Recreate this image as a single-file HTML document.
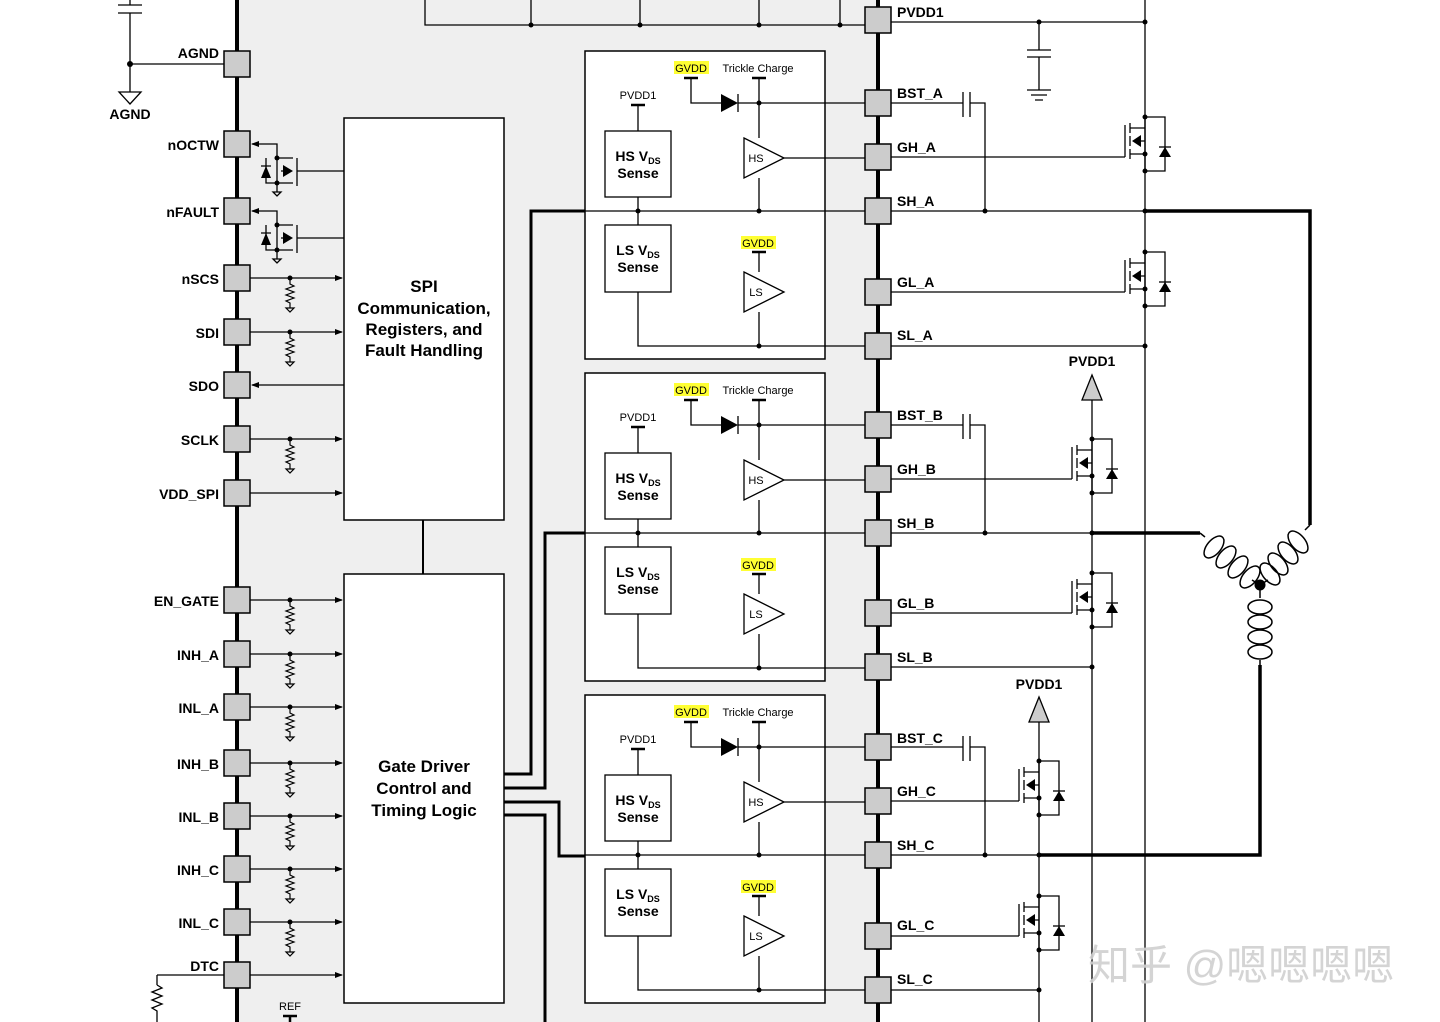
<!DOCTYPE html>
<html><head><meta charset="utf-8"><style>
html,body{margin:0;padding:0;background:#fff;}
svg{display:block;}
text{font-family:"Liberation Sans",Arial,sans-serif;}
.b{font-weight:bold;font-size:14px;}
.s{font-size:11px;}
</style></head><body>
<svg width="1440" height="1022" viewBox="0 0 1440 1022" xmlns="http://www.w3.org/2000/svg">
<defs>
<marker id="ar" markerWidth="8" markerHeight="8" refX="7" refY="4" orient="auto" markerUnits="userSpaceOnUse"><path d="M0,1 L8,4 L0,7z" fill="#000"/></marker>
<g id="res"><path d="M0,0 v6 l4,2 l-8,3 l8,3 l-8,3 l8,3 l-8,3 l4,2 v5 M-4,30 h8 l-4,4z" fill="none" stroke="#000" stroke-width="1.2"/><circle cx="0" cy="0" r="2.5"/></g>
<g id="pin"><rect x="-13" y="-13" width="26" height="26" fill="#ccc" stroke="#000" stroke-width="1.5"/></g>
<g id="fet">
<g fill="none" stroke="#000" stroke-width="1.3">
<path d="M0,0 V-32"/>
<path d="M5,-34 v10 M5,-21 v10 M5,-8 v10"/>
<path d="M5,-29 H20 M5,-3 H20 M20,-40 V14 M20,-16 H14"/>
<path d="M20,-40 H40 V14 H20"/>
<path d="M34,-10 h12"/>
</g>
<path d="M7,-16 l9,-6 v12z" fill="#000"/>
<path d="M34,0 l6,-10 l6,10z" fill="#000"/>
<circle cx="20" cy="-40" r="2.5" fill="#000"/><circle cx="20" cy="-3" r="2.5" fill="#000"/><circle cx="20" cy="14" r="2.5" fill="#000"/>
</g>
</defs>

<rect x="237" y="0" width="641" height="1022" fill="#efefef"/>
<g stroke="#000" stroke-width="1.3" fill="none">
<path d="M425,0 V25 H878 M531,0 V25 M640,0 V25 M759,0 V25 M840,0 V25"/>
</g>
<g fill="#000"><circle cx="531" cy="25" r="2.5"/><circle cx="640" cy="25" r="2.5"/><circle cx="759" cy="25" r="2.5"/><circle cx="840" cy="25" r="2.5"/></g>

<g stroke="#000" stroke-width="1.3" fill="none">
<path d="M130,0 V5 M118,5 H142 M118,13 H142 M130,13 V92 M130,64 H237"/>
<path d="M119,92 H141 L130,104z"/>
</g>
<circle cx="130" cy="64" r="3" fill="#000"/>
<text x="130" y="119" class="b" text-anchor="middle">AGND</text>

<rect x="344" y="118" width="160" height="402" fill="#fff" stroke="#000" stroke-width="1.5"/>
<rect x="344" y="574" width="160" height="429" fill="#fff" stroke="#000" stroke-width="1.5"/>
<line x1="423" y1="520" x2="423" y2="574" stroke="#000" stroke-width="2"/>
<text class="b" text-anchor="middle" style="font-size:17px"><tspan x="424" y="292">SPI</tspan><tspan x="424" y="314">Communication,</tspan><tspan x="424" y="335">Registers, and</tspan><tspan x="424" y="356">Fault Handling</tspan></text>
<text class="b" text-anchor="middle" style="font-size:17px"><tspan x="424" y="772">Gate Driver</tspan><tspan x="424" y="794">Control and</tspan><tspan x="424" y="816">Timing Logic</tspan></text>

<g stroke="#000" stroke-width="1.3" fill="none">
<path d="M277,158 V144 H252" marker-end="url(#ar)"/>
<path d="M277,158 H293 M277,183 H293 M277,158 V192 M266,158 V183 H277 M281,171 H283 M297,158 V186 M344,171 H297"/>
<path d="M273,192 h8 l-4,4z"/>
<path d="M277,225 V211 H252" marker-end="url(#ar)"/>
<path d="M277,225 H293 M277,250 H293 M277,225 V259 M266,225 V250 H277 M281,238 H283 M297,225 V253 M344,238 H297"/>
<path d="M273,259 h8 l-4,4z"/>
<path d="M261,166 h10 M261,233 h10"/>
</g>
<g fill="#000">
<circle cx="277" cy="158" r="2.5"/><circle cx="277" cy="183" r="2.5"/><path d="M261,178 h10 l-5,-12z"/><path d="M283,165 v12 l10,-6z"/>
<circle cx="277" cy="225" r="2.5"/><circle cx="277" cy="250" r="2.5"/><path d="M261,245 h10 l-5,-12z"/><path d="M283,232 v12 l10,-6z"/>
</g>

<g stroke="#000" stroke-width="1.3" fill="none">
<path d="M250,278 H342" marker-end="url(#ar)"/>
<path d="M250,332 H342" marker-end="url(#ar)"/>
<path d="M344,385 H252" marker-end="url(#ar)"/>
<path d="M250,439 H342" marker-end="url(#ar)"/>
<path d="M250,493 H342" marker-end="url(#ar)"/>
<path d="M250,600 H342" marker-end="url(#ar)"/>
<path d="M250,654 H342" marker-end="url(#ar)"/>
<path d="M250,707 H342" marker-end="url(#ar)"/>
<path d="M250,763 H342" marker-end="url(#ar)"/>
<path d="M250,816 H342" marker-end="url(#ar)"/>
<path d="M250,869 H342" marker-end="url(#ar)"/>
<path d="M250,922 H342" marker-end="url(#ar)"/>
<path d="M250,975 H342" marker-end="url(#ar)"/>
<path d="M157,975 H237 M157,975 V985"/>
</g>
<use href="#res" x="290" y="278"/><use href="#res" x="290" y="332"/><use href="#res" x="290" y="439"/>
<use href="#res" x="290" y="600"/><use href="#res" x="290" y="654"/><use href="#res" x="290" y="707"/><use href="#res" x="290" y="763"/><use href="#res" x="290" y="816"/><use href="#res" x="290" y="869"/><use href="#res" x="290" y="922"/>
<g stroke="#000" stroke-width="1.3" fill="none"><path d="M157,985 l5,3 l-10,4 l10,4 l-10,4 l10,4 l-10,4 l5,3 v14"/><path d="M283,1016 H297 M290,1016 V1022" stroke-width="2.5"/></g>
<text x="290" y="1010" class="s" text-anchor="middle">REF</text>

<g stroke="#000" stroke-width="3" fill="none">
<path d="M504,774 H531 V211 H585"/>
<path d="M504,788 H545 V533 H585"/>
<path d="M504,802 H559 V856 H585"/>
<path d="M504,815 H545 V1022"/>
</g>

<g>
<rect x="585" y="51" width="240" height="308" fill="#fff" stroke="#000" stroke-width="1.5"/>
<rect x="674" y="61" width="35" height="13" fill="#ffff33"/>
<text x="691" y="72" class="s" text-anchor="middle">GVDD</text>
<text x="758" y="72" class="s" text-anchor="middle">Trickle Charge</text>
<text x="638" y="99" class="s" text-anchor="middle">PVDD1</text>
<g stroke="#000" fill="none" stroke-width="1.3">
<path d="M684,78 H698 M752,78 H766 M631,105 H645" stroke-width="2.5"/>
<path d="M691,78 V103 H721 M738,103 H878 M759,78 V138 M759,178 V211 M638,105 V131 M784,158 H878 M585,211 H878 M638,197 V225 M638,292 V346 H878 M759,252 V272 M759,312 V346"/>
<path d="M738,94 V112"/>
<path d="M744,138 L784,158 L744,178z M744,272 L784,292 L744,312z" fill="#fff"/>
<rect x="605" y="131" width="66" height="66" fill="#fff"/>
<rect x="605" y="225" width="66" height="67" fill="#fff"/>
<path d="M752,252 H766" stroke-width="2.5"/>
</g>
<path d="M721,94 L738,103 L721,112z" fill="#000"/>
<g fill="#000"><circle cx="759" cy="103" r="2.5"/><circle cx="638" cy="211" r="2.5"/><circle cx="759" cy="211" r="2.5"/><circle cx="759" cy="346" r="2.5"/></g>
<text x="756" y="162" class="s" text-anchor="middle">HS</text>
<text x="756" y="296" class="s" text-anchor="middle">LS</text>
<rect x="741" y="236" width="35" height="13" fill="#ffff33"/>
<text x="758" y="247" class="s" text-anchor="middle">GVDD</text>
<text x="638" y="161" class="b" text-anchor="middle">HS V<tspan font-size="9" dy="3">DS</tspan></text>
<text x="638" y="178" class="b" text-anchor="middle">Sense</text>
<text x="638" y="255" class="b" text-anchor="middle">LS V<tspan font-size="9" dy="3">DS</tspan></text>
<text x="638" y="272" class="b" text-anchor="middle">Sense</text>
</g>
<g transform="translate(0,322)">
<rect x="585" y="51" width="240" height="308" fill="#fff" stroke="#000" stroke-width="1.5"/>
<rect x="674" y="61" width="35" height="13" fill="#ffff33"/>
<text x="691" y="72" class="s" text-anchor="middle">GVDD</text>
<text x="758" y="72" class="s" text-anchor="middle">Trickle Charge</text>
<text x="638" y="99" class="s" text-anchor="middle">PVDD1</text>
<g stroke="#000" fill="none" stroke-width="1.3">
<path d="M684,78 H698 M752,78 H766 M631,105 H645" stroke-width="2.5"/>
<path d="M691,78 V103 H721 M738,103 H878 M759,78 V138 M759,178 V211 M638,105 V131 M784,158 H878 M585,211 H878 M638,197 V225 M638,292 V346 H878 M759,252 V272 M759,312 V346"/>
<path d="M738,94 V112"/>
<path d="M744,138 L784,158 L744,178z M744,272 L784,292 L744,312z" fill="#fff"/>
<rect x="605" y="131" width="66" height="66" fill="#fff"/>
<rect x="605" y="225" width="66" height="67" fill="#fff"/>
<path d="M752,252 H766" stroke-width="2.5"/>
</g>
<path d="M721,94 L738,103 L721,112z" fill="#000"/>
<g fill="#000"><circle cx="759" cy="103" r="2.5"/><circle cx="638" cy="211" r="2.5"/><circle cx="759" cy="211" r="2.5"/><circle cx="759" cy="346" r="2.5"/></g>
<text x="756" y="162" class="s" text-anchor="middle">HS</text>
<text x="756" y="296" class="s" text-anchor="middle">LS</text>
<rect x="741" y="236" width="35" height="13" fill="#ffff33"/>
<text x="758" y="247" class="s" text-anchor="middle">GVDD</text>
<text x="638" y="161" class="b" text-anchor="middle">HS V<tspan font-size="9" dy="3">DS</tspan></text>
<text x="638" y="178" class="b" text-anchor="middle">Sense</text>
<text x="638" y="255" class="b" text-anchor="middle">LS V<tspan font-size="9" dy="3">DS</tspan></text>
<text x="638" y="272" class="b" text-anchor="middle">Sense</text>
</g>
<g transform="translate(0,644)">
<rect x="585" y="51" width="240" height="308" fill="#fff" stroke="#000" stroke-width="1.5"/>
<rect x="674" y="61" width="35" height="13" fill="#ffff33"/>
<text x="691" y="72" class="s" text-anchor="middle">GVDD</text>
<text x="758" y="72" class="s" text-anchor="middle">Trickle Charge</text>
<text x="638" y="99" class="s" text-anchor="middle">PVDD1</text>
<g stroke="#000" fill="none" stroke-width="1.3">
<path d="M684,78 H698 M752,78 H766 M631,105 H645" stroke-width="2.5"/>
<path d="M691,78 V103 H721 M738,103 H878 M759,78 V138 M759,178 V211 M638,105 V131 M784,158 H878 M585,211 H878 M638,197 V225 M638,292 V346 H878 M759,252 V272 M759,312 V346"/>
<path d="M738,94 V112"/>
<path d="M744,138 L784,158 L744,178z M744,272 L784,292 L744,312z" fill="#fff"/>
<rect x="605" y="131" width="66" height="66" fill="#fff"/>
<rect x="605" y="225" width="66" height="67" fill="#fff"/>
<path d="M752,252 H766" stroke-width="2.5"/>
</g>
<path d="M721,94 L738,103 L721,112z" fill="#000"/>
<g fill="#000"><circle cx="759" cy="103" r="2.5"/><circle cx="638" cy="211" r="2.5"/><circle cx="759" cy="211" r="2.5"/><circle cx="759" cy="346" r="2.5"/></g>
<text x="756" y="162" class="s" text-anchor="middle">HS</text>
<text x="756" y="296" class="s" text-anchor="middle">LS</text>
<rect x="741" y="236" width="35" height="13" fill="#ffff33"/>
<text x="758" y="247" class="s" text-anchor="middle">GVDD</text>
<text x="638" y="161" class="b" text-anchor="middle">HS V<tspan font-size="9" dy="3">DS</tspan></text>
<text x="638" y="178" class="b" text-anchor="middle">Sense</text>
<text x="638" y="255" class="b" text-anchor="middle">LS V<tspan font-size="9" dy="3">DS</tspan></text>
<text x="638" y="272" class="b" text-anchor="middle">Sense</text>
</g>

<g stroke="#000" stroke-width="1.3" fill="none">
<path d="M878,22 H1145 M1145,0 V1022 M1039,22 V50 M1027,50 H1051 M1027,57 H1051 M1039,57 V90 M1027,90 H1051 M1031,95 H1047 M1035,100 H1043"/>
<path d="M1092,400 V1022 M1039,722 V1022"/>
<path d="M1082,400 H1102 L1092,375z M1029,722 H1049 L1039,697z" fill="#ccc"/>
<path d="M878,103 H963 M970,103 H985 V211 M963,92 V117 M970,92 V117"/>
<path d="M878,425 H963 M970,425 H985 V533 M963,414 V439 M970,414 V439"/>
<path d="M878,747 H963 M970,747 H985 V855 M963,736 V761 M970,736 V761"/>
<path d="M878,211 H1145 M878,346 H1145 M878,533 H1092 M878,667 H1092 M878,855 H1039 M878,990 H1039"/>
<path d="M878,157 H1125 M878,292 H1125 M878,479 H1072 M878,613 H1072 M878,801 H1019 M878,936 H1019"/>
</g>
<g fill="#000"><circle cx="1039" cy="22" r="2.5"/><circle cx="1145" cy="22" r="2.5"/><circle cx="985" cy="211" r="2.5"/><circle cx="985" cy="533" r="2.5"/><circle cx="985" cy="855" r="2.5"/><circle cx="1145" cy="211" r="2.5"/><circle cx="1145" cy="346" r="2.5"/><circle cx="1092" cy="533" r="2.5"/><circle cx="1092" cy="667" r="2.5"/><circle cx="1039" cy="855" r="2.5"/><circle cx="1039" cy="990" r="2.5"/></g>
<use href="#fet" x="1125" y="157"/><use href="#fet" x="1125" y="292"/>
<use href="#fet" x="1072" y="479"/><use href="#fet" x="1072" y="613"/>
<use href="#fet" x="1019" y="801"/><use href="#fet" x="1019" y="936"/>

<g stroke="#000" stroke-width="3.5" fill="none">
<path d="M1145,211 H1310 V525"/>
<path d="M1092,533 H1200"/>
<path d="M1039,855 H1260 V665"/>
</g>
<g stroke="#000" stroke-width="1.5" fill="none">
<path d="M1200,533 L1205,537 M1252,580 L1260,585 L1268,580 M1305,530 L1310,525 M1260,585 V598 M1260,660 V665"/>
<ellipse cx="1214" cy="547" rx="7" ry="13" transform="rotate(40 1214 547)"/>
<ellipse cx="1226" cy="557" rx="7" ry="13" transform="rotate(40 1226 557)"/>
<ellipse cx="1238" cy="567" rx="7" ry="13" transform="rotate(40 1238 567)"/>
<ellipse cx="1250" cy="577" rx="7" ry="13" transform="rotate(40 1250 577)"/>
<ellipse cx="1298" cy="542" rx="7" ry="13" transform="rotate(-40 1298 542)"/>
<ellipse cx="1288" cy="553" rx="7" ry="13" transform="rotate(-40 1288 553)"/>
<ellipse cx="1278" cy="564" rx="7" ry="13" transform="rotate(-40 1278 564)"/>
<ellipse cx="1270" cy="574" rx="7" ry="13" transform="rotate(-40 1270 574)"/>
<ellipse cx="1260" cy="607" rx="12" ry="7"/>
<ellipse cx="1260" cy="622" rx="12" ry="7"/>
<ellipse cx="1260" cy="637" rx="12" ry="7"/>
<ellipse cx="1260" cy="652" rx="12" ry="7"/>
</g>
<circle cx="1260" cy="585" r="5.5" fill="#000"/>
<text x="1092" y="366" class="b" text-anchor="middle">PVDD1</text>
<text x="1039" y="689" class="b" text-anchor="middle">PVDD1</text>

<line x1="237" y1="0" x2="237" y2="1022" stroke="#000" stroke-width="4"/>
<line x1="878" y1="0" x2="878" y2="1022" stroke="#000" stroke-width="4"/>

<g>
<use href="#pin" x="237" y="64"/><use href="#pin" x="237" y="144"/><use href="#pin" x="237" y="211"/><use href="#pin" x="237" y="278"/><use href="#pin" x="237" y="332"/><use href="#pin" x="237" y="385"/><use href="#pin" x="237" y="439"/><use href="#pin" x="237" y="493"/><use href="#pin" x="237" y="600"/><use href="#pin" x="237" y="654"/><use href="#pin" x="237" y="707"/><use href="#pin" x="237" y="763"/><use href="#pin" x="237" y="816"/><use href="#pin" x="237" y="869"/><use href="#pin" x="237" y="922"/><use href="#pin" x="237" y="975"/>
</g>
<g class="b" text-anchor="end">
<text x="219" y="58">AGND</text><text x="219" y="150">nOCTW</text><text x="219" y="217">nFAULT</text><text x="219" y="284">nSCS</text><text x="219" y="338">SDI</text><text x="219" y="391">SDO</text><text x="219" y="445">SCLK</text><text x="219" y="499">VDD_SPI</text><text x="219" y="606">EN_GATE</text><text x="219" y="660">INH_A</text><text x="219" y="713">INL_A</text><text x="219" y="769">INH_B</text><text x="219" y="822">INL_B</text><text x="219" y="875">INH_C</text><text x="219" y="928">INL_C</text><text x="219" y="971">DTC</text>
</g>
<g>
<use href="#pin" x="878" y="20"/><use href="#pin" x="878" y="103"/><use href="#pin" x="878" y="157"/><use href="#pin" x="878" y="211"/><use href="#pin" x="878" y="292"/><use href="#pin" x="878" y="346"/>
<use href="#pin" x="878" y="425"/><use href="#pin" x="878" y="479"/><use href="#pin" x="878" y="533"/><use href="#pin" x="878" y="613"/><use href="#pin" x="878" y="667"/>
<use href="#pin" x="878" y="747"/><use href="#pin" x="878" y="801"/><use href="#pin" x="878" y="855"/><use href="#pin" x="878" y="936"/><use href="#pin" x="878" y="990"/>
</g>
<g class="b">
<text x="897" y="17">PVDD1</text><text x="897" y="98">BST_A</text><text x="897" y="152">GH_A</text><text x="897" y="206">SH_A</text><text x="897" y="287">GL_A</text><text x="897" y="340">SL_A</text>
<text x="897" y="420">BST_B</text><text x="897" y="474">GH_B</text><text x="897" y="528">SH_B</text><text x="897" y="608">GL_B</text><text x="897" y="662">SL_B</text>
<text x="897" y="743">BST_C</text><text x="897" y="796">GH_C</text><text x="897" y="850">SH_C</text><text x="897" y="930">GL_C</text><text x="897" y="984">SL_C</text>
</g>

<text x="1088" y="980" style="font-family:'Liberation Sans','Noto Sans CJK SC',sans-serif;font-size:42px" fill="#d0d0d0" opacity="0.9">知乎 @嗯嗯嗯嗯</text>
</svg>
</body></html>
